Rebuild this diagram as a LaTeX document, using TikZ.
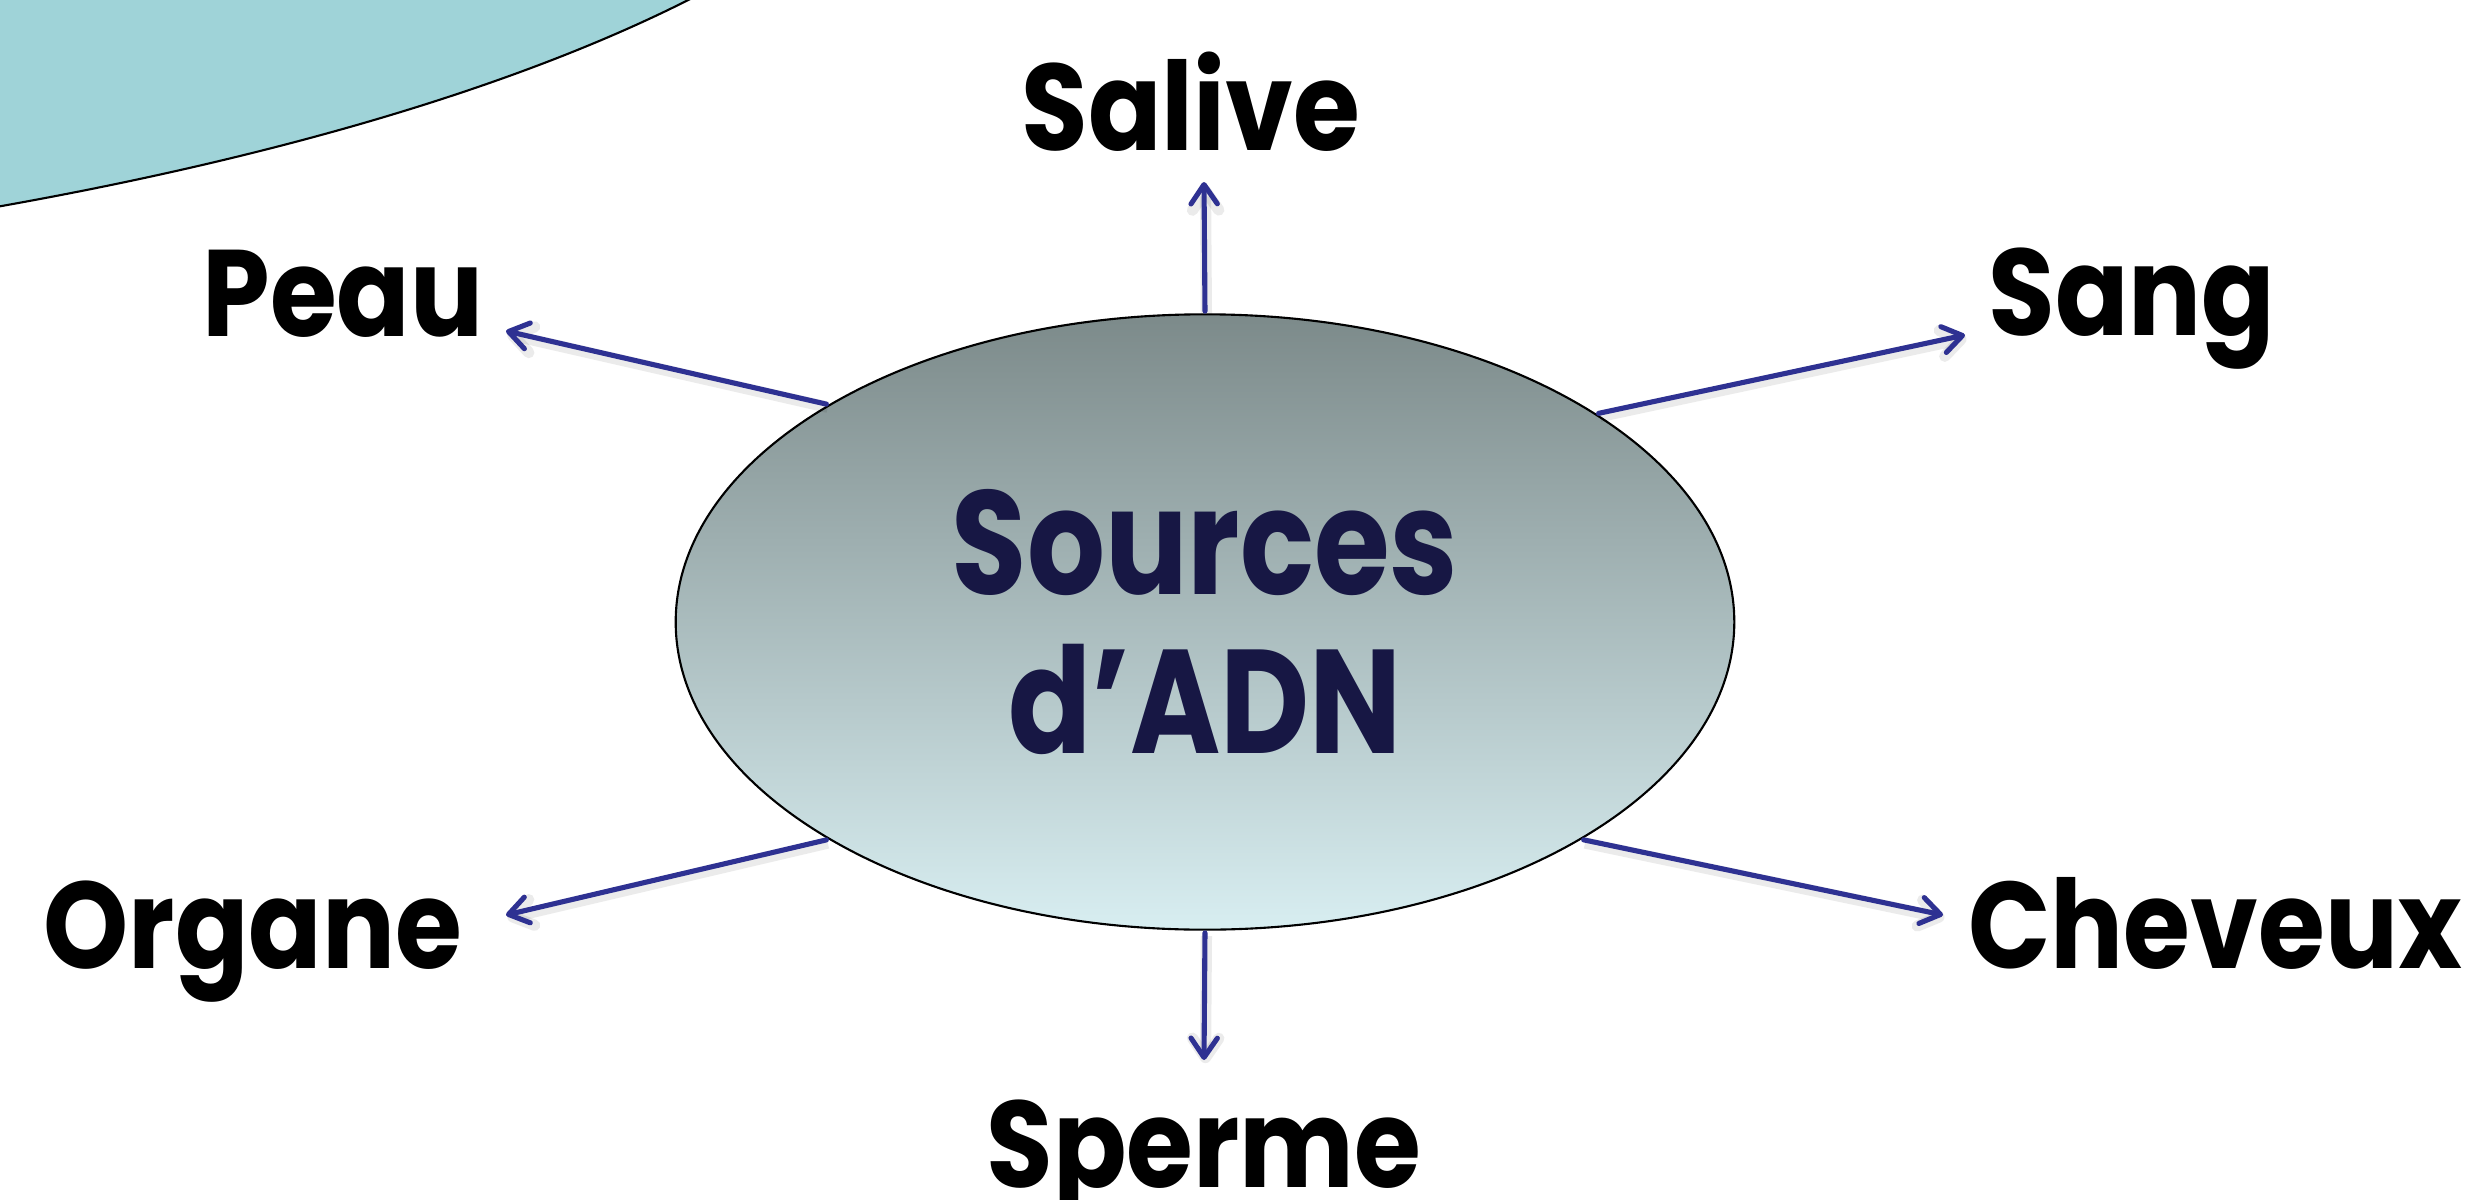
\documentclass[tikz,border=0pt]{standalone}
\usepackage{fontspec}
\setmainfont{Poppins}
\newfontfamily\labelfont{Poppins}[FakeStretch=0.88]
\newfontfamily\hubfont{Poppins}[FakeStretch=0.83]
\usetikzlibrary{shapes.geometric,arrows.meta}
\definecolor{arrowblue}{RGB}{46,49,146}
\definecolor{blobteal}{RGB}{159,211,216}
\definecolor{shadetop}{RGB}{124,138,138}
\definecolor{shadebottom}{RGB}{216,238,241}
\definecolor{centertext}{RGB}{23,23,68}
\tikzset{
  link/.style={draw=arrowblue, line width=1.45pt, line cap=round,
    -{Straight Barb[length=5.5pt,width=7.5pt,line cap=round,line join=round]},
    shorten <=0.6pt,
    preaction={draw=black, draw opacity=0.08, line width=3.2pt,
      transform canvas={xshift=0.4pt, yshift=-0.9pt}}},
  source/.style={font=\labelfont\fontsize{35}{40}\selectfont\bfseries, text=black,
    anchor=base, inner sep=0pt},
  hub/.style={ellipse, draw=black, line width=0.6pt,
    top color=shadetop, bottom color=shadebottom,
    minimum width=10.58cm, minimum height=6.15cm, inner sep=0pt,
    align=center, text=centertext,
    font=\hubfont\fontsize{42}{45}\selectfont\bfseries}
}
\begin{document}
\begin{tikzpicture}[x=0.01cm, y=-0.01cm]
\useasboundingbox (0,0) rectangle (2481,1200);
\fill[white] (0,0) rectangle (2481,1200);
% decorative disc in the upper left corner
\begin{scope}
  \clip (0,0) rectangle (2481,1200);
  \filldraw[fill=blobteal, draw=black, line width=0.6pt]
    (-1000,-300) ellipse [x radius=19.61cm, y radius=5.88cm];
\end{scope}
% central node
\node[hub] (src) at (1205,622) {Sources\\d’ADN};
% arrow tips
\coordinate (tSalive) at (1204,182);
\coordinate (tSang) at (1965,335);
\coordinate (tPeau) at (506,331);
\coordinate (tOrgane) at (506,915);
\coordinate (tCheveux) at (1943,915);
\coordinate (tSperme) at (1204,1060);
% connectors
\draw[link] (src.90) -- (tSalive);
\draw[link] (src.28) -- (tSang);
\draw[link] (src.150) -- (tPeau);
\draw[link] (src.210) -- (tOrgane);
\draw[link] (src.-30) -- (tCheveux);
\draw[link] (src.270) -- (tSperme);
% labels
\node[source] (salive) at (1191,150) {Salive};
\node[source] (peau) at (343,336) {Peau};
\node[source] (sang) at (2132,335) {Sang};
\node[source] (organe) at (253,968) {Organe};
\node[source] (cheveux) at (2215,968) {Cheveux};
\node[source] (sperme) at (1204,1187) {Sperme};
\end{tikzpicture}
\end{document}
